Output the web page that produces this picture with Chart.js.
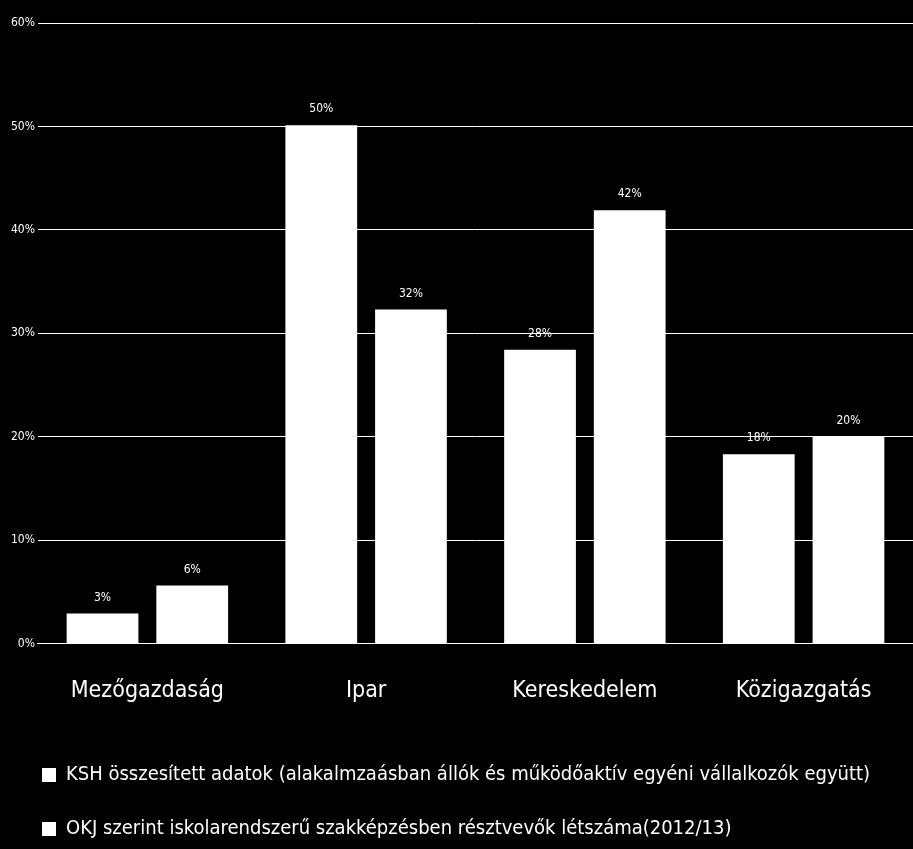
<!DOCTYPE html>
<html>
<head>
<meta charset="utf-8">
<script src="https://cdn.jsdelivr.net/npm/chart.js@4"></script>
<style>
  html, body { margin: 0; padding: 0; background: #000; }
  #wrap { width: 913px; height: 849px; }
</style>
</head>
<body>
<div id="wrap"><canvas id="c"></canvas></div>
<script>
const categories = ["Mezőgazdaság", "Ipar", "Kereskedelem", "Közigazgatás"];
const kshValues = [2.9, 50.1, 28.4, 18.3];
const okjValues = [5.6, 32.3, 41.9, 20.0];
const kshLabels = ["3%", "50%", "28%", "18%"];
const okjLabels = ["6%", "32%", "42%", "20%"];
const seriesNames = [
  "KSH összesített adatok (alakalmzaásban állók és működőaktív egyéni vállalkozók együtt)",
  "OKJ szerint iskolarendszerű szakképzésben résztvevők létszáma(2012/13)"
];

const font = "'DejaVu Sans Condensed', 'DejaVu Sans', sans-serif";

const valueLabels = {
  id: "valueLabels",
  afterDatasetsDraw(chart) {
    const ctx = chart.ctx;
    const texts = [kshLabels, okjLabels];
    ctx.save();
    ctx.fillStyle = "#fff";
    ctx.font = "12px " + font;
    ctx.textAlign = "center";
    ctx.textBaseline = "bottom";
    chart.data.datasets.forEach((ds, i) => {
      chart.getDatasetMeta(i).data.forEach((bar, j) => {
        ctx.fillText(texts[i][j], bar.x, bar.y - 10);
      });
    });
    ctx.restore();
  }
};

new Chart(document.getElementById("c"), {
  type: "bar",
  data: {
    labels: categories,
    datasets: [
      { label: seriesNames[0], data: kshValues, backgroundColor: "#fff" },
      { label: seriesNames[1], data: okjValues, backgroundColor: "#fff" }
    ]
  },
  options: {
    responsive: true,
    maintainAspectRatio: false,
    animation: false,
    layout: { padding: { top: 23, right: 0, left: 8, bottom: 0 } },
    categoryPercentage: 0.82,
    barPercentage: 0.8,
    plugins: {
      tooltip: { enabled: false },
      legend: {
        position: "bottom",
        align: "start",
        labels: {
          color: "#fff",
          font: { family: font, size: 20 },
          boxWidth: 14,
          boxHeight: 14,
          padding: 34
        }
      }
    },
    scales: {
      x: {
        grid: { display: false },
        border: { color: "#fff" },
        ticks: { color: "#fff", font: { family: font, size: 23 }, padding: 26 }
      },
      y: {
        min: 0, max: 60,
        ticks: { stepSize: 10, color: "#fff", font: { family: font, size: 12 },
                 callback: v => v + "%" },
        grid: { color: "#fff", lineWidth: 1, drawTicks: false },
        border: { display: false }
      }
    }
  },
  plugins: [valueLabels]
});
</script>
</body>
</html>
